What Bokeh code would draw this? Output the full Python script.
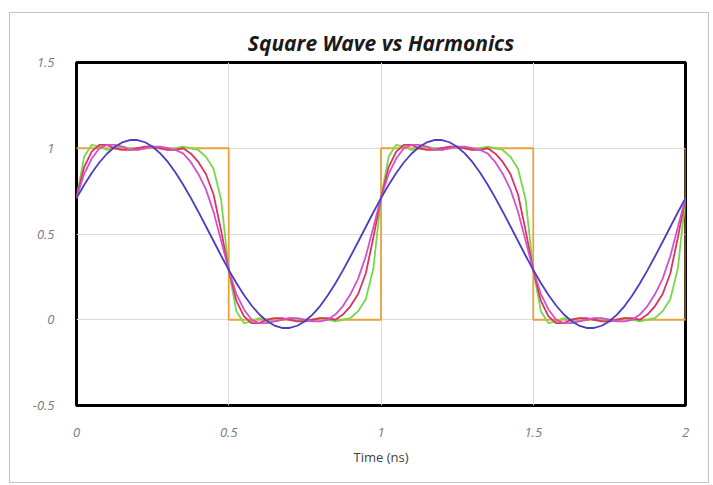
from bokeh.plotting import figure
from bokeh.models import FixedTicker, Range1d
from bokeh.embed import file_html
from bokeh.resources import INLINE

# Time samples (ns)
time = [0.0, 0.025, 0.05, 0.075, 0.1, 0.125, 0.15, 0.175, 0.2, 0.225,
        0.25, 0.275, 0.3, 0.325, 0.35, 0.375, 0.4, 0.425, 0.45, 0.475,
        0.5, 0.525, 0.55, 0.575, 0.6, 0.625, 0.65, 0.675, 0.7, 0.725,
        0.75, 0.775, 0.8, 0.825, 0.85, 0.875, 0.9, 0.925, 0.95, 0.975,
        1.0, 1.025, 1.05, 1.075, 1.1, 1.125, 1.15, 1.175, 1.2, 1.225,
        1.25, 1.275, 1.3, 1.325, 1.35, 1.375, 1.4, 1.425, 1.45, 1.475,
        1.5, 1.525, 1.55, 1.575, 1.6, 1.625, 1.65, 1.675, 1.7, 1.725,
        1.75, 1.775, 1.8, 1.825, 1.85, 1.875, 1.9, 1.925, 1.95, 1.975,
        2.0]

blue = [0.709, 0.786, 0.856, 0.917, 0.968, 1.007, 1.034, 1.048, 1.048, 1.035,
        1.009, 0.970, 0.920, 0.859, 0.789, 0.712, 0.630, 0.545, 0.459, 0.373,
        0.291, 0.214, 0.144, 0.083, 0.032, -0.007, -0.034, -0.048, -0.048, -0.035,
        -0.009, 0.030, 0.080, 0.141, 0.211, 0.288, 0.370, 0.455, 0.541, 0.627,
        0.709, 0.786, 0.856, 0.917, 0.968, 1.007, 1.034, 1.048, 1.048, 1.035,
        1.009, 0.970, 0.920, 0.859, 0.789, 0.712, 0.630, 0.545, 0.459, 0.373,
        0.291, 0.214, 0.144, 0.083, 0.032, -0.007, -0.034, -0.048, -0.048, -0.035,
        -0.009, 0.030, 0.080, 0.141, 0.211, 0.288, 0.370, 0.455, 0.541, 0.627,
        0.709]

magenta = [0.71, 0.85, 0.94, 1.00, 1.02, 1.02, 1.01, 0.99, 0.99, 1.00,
           1.01, 1.01, 1.00, 0.99, 0.97, 0.92, 0.85, 0.76, 0.63, 0.46,
           0.29, 0.15, 0.06, 0.00, -0.02, -0.02, -0.01, 0.00, 0.01, 0.01,
           0.00, -0.01, -0.01, 0.00, 0.03, 0.08, 0.15, 0.24, 0.37, 0.54,
           0.71, 0.85, 0.94, 1.00, 1.02, 1.02, 1.01, 0.99, 0.99, 1.00,
           1.01, 1.01, 1.00, 0.99, 0.97, 0.92, 0.85, 0.76, 0.63, 0.46,
           0.29, 0.15, 0.06, 0.00, -0.02, -0.02, -0.01, 0.00, 0.01, 0.01,
           0.00, -0.01, -0.01, 0.00, 0.03, 0.08, 0.15, 0.24, 0.37, 0.54,
           0.71]

red = [0.71, 0.89, 0.98, 1.02, 1.02, 1.00, 0.99, 0.99, 1.00, 1.01,
       1.01, 1.00, 0.99, 0.99, 1.00, 0.97, 0.92, 0.85, 0.73, 0.52,
       0.29, 0.11, 0.02, -0.02, -0.02, 0.00, 0.01, 0.01, 0.00, -0.01,
       -0.01, 0.00, 0.01, 0.01, 0.00, 0.03, 0.08, 0.15, 0.27, 0.48,
       0.71, 0.89, 0.98, 1.02, 1.02, 1.00, 0.99, 0.99, 1.00, 1.01,
       1.01, 1.00, 0.99, 0.99, 1.00, 0.97, 0.92, 0.85, 0.73, 0.52,
       0.29, 0.11, 0.02, -0.02, -0.02, 0.00, 0.01, 0.01, 0.00, -0.01,
       -0.01, 0.00, 0.01, 0.01, 0.00, 0.03, 0.08, 0.15, 0.27, 0.48,
       0.71]

green = [0.71, 0.95, 1.02, 1.01, 0.99, 1.00, 1.01, 1.00, 0.99, 1.00,
         1.01, 1.00, 0.99, 1.00, 1.01, 1.00, 0.99, 0.95, 0.88, 0.70,
         0.29, 0.05, -0.02, -0.01, 0.01, 0.00, -0.01, 0.00, 0.01, 0.00,
         -0.01, 0.00, 0.01, 0.00, -0.01, 0.00, 0.01, 0.05, 0.12, 0.30,
         0.71, 0.95, 1.02, 1.01, 0.99, 1.00, 1.01, 1.00, 0.99, 1.00,
         1.01, 1.00, 0.99, 1.00, 1.01, 1.00, 0.99, 0.95, 0.88, 0.70,
         0.29, 0.05, -0.02, -0.01, 0.01, 0.00, -0.01, 0.00, 0.01, 0.00,
         -0.01, 0.00, 0.01, 0.00, -0.01, 0.00, 0.01, 0.05, 0.12, 0.30,
         0.71]

square_t = [0.0, 0.5, 0.5, 1.0, 1.0, 1.5, 1.5, 2.0, 2.0]
square_v = [1.0, 1.0, 0.0, 0.0, 1.0, 1.0, 0.0, 0.0, 1.0]

x_ticks = [0, 0.5, 1, 1.5, 2]
y_ticks = [-0.5, 0, 0.5, 1, 1.5]
x_labels = {0: "0", 0.5: "0.5", 1: "1", 1.5: "1.5", 2: "2"}
y_labels = {-0.5: "-0.5", 0: "0", 0.5: "0.5", 1: "1", 1.5: "1.5"}

FONT = "Open Sans"

p = figure(width=698, height=469, output_backend="svg", toolbar_location=None,
           x_range=Range1d(0, 2), y_range=Range1d(-0.5, 1.5),
           title="Square Wave vs Harmonics")
p.frame_width = 609
p.frame_height = 343
p.min_border_left = 66
p.min_border_right = 23
p.min_border_top = 49
p.min_border_bottom = 77
p.styles = {"border": "1px solid #c4c4c4", "margin-left": "9px", "margin-top": "12px"}

p.title.align = "center"
p.title.text_font = FONT
p.title.text_font_style = "bold italic"
p.title.text_font_size = "21px"
p.title.text_color = "#1a1a1a"
p.title.offset = 20
p.title.standoff = 12

p.outline_line_color = "black"
p.outline_line_width = 3
p.background_fill_color = "white"
p.border_fill_color = "white"

for ax in (p.xaxis[0], p.yaxis[0]):
    ax.axis_line_color = None
    ax.major_tick_line_color = None
    ax.minor_tick_line_color = None
    ax.major_label_text_font = FONT
    ax.major_label_text_font_style = "italic"
    ax.major_label_text_font_size = "13px"
    ax.major_label_text_color = "#7a7a7a"

p.xaxis[0].ticker = FixedTicker(ticks=x_ticks)
p.yaxis[0].ticker = FixedTicker(ticks=y_ticks)
p.xaxis[0].major_label_overrides = x_labels
p.yaxis[0].major_label_overrides = y_labels
p.xaxis[0].major_label_standoff = 16
p.yaxis[0].major_label_standoff = 16
p.xaxis[0].axis_label = "Time (ns)"
p.xaxis[0].axis_label_text_font = FONT
p.xaxis[0].axis_label_text_font_style = "normal"
p.xaxis[0].axis_label_text_font_size = "13px"
p.xaxis[0].axis_label_text_color = "#404040"
p.xaxis[0].axis_label_standoff = 8

p.xgrid.grid_line_color = "#dadada"
p.ygrid.grid_line_color = "#dadada"
p.xgrid.grid_line_width = 1
p.ygrid.grid_line_width = 1

p.line(square_t, square_v, line_color="#EBA23A", line_width=1.8)
p.line(time, green, line_color="#78D84C", line_width=1.8)
p.line(time, red, line_color="#D8345E", line_width=1.8)
p.line(time, magenta, line_color="#D64FCB", line_width=1.8)
p.line(time, blue, line_color="#4A3DC2", line_width=1.8)

open("out.html", "w").write(file_html(p, INLINE))
